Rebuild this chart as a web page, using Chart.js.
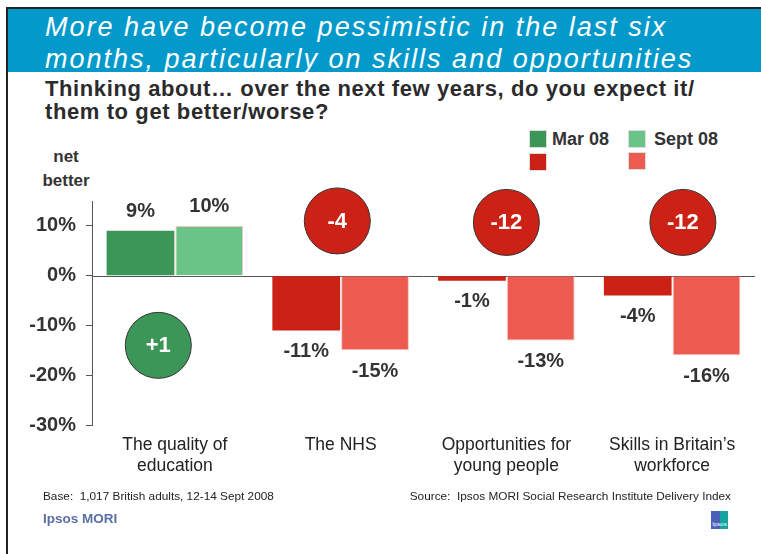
<!DOCTYPE html>
<html>
<head>
<meta charset="utf-8">
<script src="https://cdn.jsdelivr.net/npm/chart.js@4.4.0/dist/chart.umd.min.js"></script>
<style>
  html, body { margin: 0; padding: 0; background: #fff; }
  body { width: 761px; height: 554px; position: relative; overflow: hidden; font-family: "Liberation Sans", Arial, sans-serif; }
  #frame { position: absolute; left: 6px; top: 7px; width: 760px; height: 560px; border-left: 2px solid #222; border-top: 2px solid #222; }
  #header { position: absolute; left: 8px; top: 9px; width: 753px; height: 63px; background: #0399cb; }
  #header div { position: absolute; left: 37px; color: #fff; font-style: italic; font-size: 27px; letter-spacing: 2px; white-space: nowrap; }
  .title { position: absolute; left: 45px; font-weight: bold; font-size: 22px; letter-spacing: 0.6px; color: #2b2b2b; white-space: nowrap; }
  .leg { position: absolute; width: 16px; height: 16px; border: 1px solid #ddd; }
  .legtxt { position: absolute; font-weight: bold; font-size: 18px; color: #333; white-space: nowrap; }
  .net { position: absolute; left: 34px; width: 64px; text-align: center; font-weight: bold; font-size: 17px; color: #333; }
  .foot { position: absolute; top: 489px; font-size: 11.8px; color: #222; white-space: nowrap; }
  #chart { position: absolute; left: 0; top: 0; }
</style>
</head>
<body>
<div id="frame"></div>
<div id="header">
  <div style="top:3px">More have become pessimistic in the last six</div>
  <div style="top:35px">months, particularly on skills and opportunities</div>
</div>
<div class="title" style="top:76px">Thinking about… over the next few years, do you expect it/</div>
<div class="title" style="top:99px">them to get better/worse?</div>

<div class="leg" style="left:529px;top:130px;background:#3c9657"></div>
<div class="legtxt" style="left:552px;top:129px">Mar 08</div>
<div class="leg" style="left:628px;top:130px;background:#6bc487"></div>
<div class="legtxt" style="left:654px;top:129px">Sept 08</div>
<div class="leg" style="left:529px;top:153px;background:#cc2216"></div>
<div class="leg" style="left:628px;top:152px;background:#ec5a50"></div>

<div class="net" style="top:147px">net</div>
<div class="net" style="top:171px">better</div>

<canvas id="chart" width="761" height="554"></canvas>

<div class="foot" style="left:43px">Base:&nbsp; 1,017 British adults, 12-14 Sept 2008</div>
<div class="foot" style="right:30px">Source:&nbsp; Ipsos MORI Social Research Institute Delivery Index</div>
<div style="position:absolute;left:43px;top:511px;font-weight:bold;font-size:13.5px;color:#5a6ea8">Ipsos MORI</div>
<div style="position:absolute;left:711px;top:511px;width:17px;height:18px;background:linear-gradient(90deg,#4a5fb8 55%,#14a3a0 55%);color:#fff;font-size:6px;line-height:26px;text-align:center">Ipsos</div>

<script>
const categories = [["The quality of", "education"], "The NHS", ["Opportunities for", "young people"], ["Skills in Britain’s", "workforce"]];
const mar08 = [9, -11, -1, -4];
const sept08 = [10, -15, -13, -16];
const netChange = [1, -4, -12, -12];
const yTicks = [-30, -20, -10, 0, 10];

const green = ["#3c9657", "#6bc487"];
const red = ["#cc2216", "#ec5a50"];

// where the net change badges sit: category offset, y value
const badgeAt = [[-0.1, -14], [-0.02, 11], [0, 10.7], [0.065, 10.7]];

const labelPlugin = {
  id: "labels",
  beforeDatasetsDraw(chart) {
    const { ctx, chartArea, scales } = chart;
    const y0 = Math.round(scales.y.getPixelForValue(0)) + 0.5;
    ctx.save();
    ctx.strokeStyle = "#555";
    ctx.lineWidth = 1;
    ctx.beginPath();
    ctx.moveTo(chartArea.left, y0);
    ctx.lineTo(chartArea.right, y0);
    ctx.stroke();
    ctx.restore();
  },
  afterDatasetsDraw(chart) {
    const { ctx, scales } = chart;
    ctx.save();
    ctx.font = "bold 20px 'Liberation Sans', Arial";
    ctx.fillStyle = "#333";
    ctx.textAlign = "center";
    ctx.textBaseline = "middle";
    chart.data.datasets.forEach((ds, di) => {
      chart.getDatasetMeta(di).data.forEach((bar, i) => {
        const v = ds.data[i];
        const y = v >= 0 ? bar.y - 19 : bar.y + 21;
        ctx.fillText(v + "%", bar.x, y);
      });
    });
    netChange.forEach((n, i) => {
      const x = scales.x.getPixelForValue(i + badgeAt[i][0]);
      const y = scales.y.getPixelForValue(badgeAt[i][1]);
      ctx.beginPath();
      ctx.arc(x, y, 33, 0, Math.PI * 2);
      ctx.fillStyle = n > 0 ? "#3c9657" : "#cc2216";
      ctx.fill();
      ctx.strokeStyle = "#333";
      ctx.lineWidth = 1;
      ctx.stroke();
      ctx.fillStyle = "#fff";
      ctx.font = "bold 22px 'Liberation Sans', Arial";
      ctx.fillText((n > 0 ? "+" : "") + n, x, y + 1);
    });
    ctx.restore();
  }
};

new Chart(document.getElementById("chart"), {
  type: "bar",
  data: {
    labels: categories,
    datasets: [
      { label: "Mar 08", data: mar08, backgroundColor: mar08.map((v, i) => i === 0 ? green[0] : red[0]), borderWidth: 0 },
      { label: "Sept 08", data: sept08, backgroundColor: sept08.map((v, i) => i === 0 ? green[1] : red[1]), borderColor: "#f3c6c3", borderWidth: 1 }
    ]
  },
  options: {
    responsive: false,
    animation: false,
    layout: { padding: { left: 0, top: 201, right: 6, bottom: 69 } },
    categoryPercentage: 0.83,
    barPercentage: 0.985,
    plugins: { legend: { display: false }, tooltip: { enabled: false } },
    scales: {
      x: {
        grid: { display: false },
        border: { display: false },
        ticks: { color: "#222", font: { size: 17.5, family: "'Liberation Sans', Arial" }, padding: 2, maxRotation: 0, autoSkip: false },
        afterFit: s => { s.height = 60; }
      },
      y: {
        min: -30,
        max: 15,
        afterBuildTicks: s => { s.ticks = yTicks.map(v => ({ value: v })); },
        afterFit: s => { s.width = 92; },
        grid: { drawOnChartArea: false, tickLength: 6, color: "#555" },
        border: { color: "#555", width: 1 },
        ticks: { color: "#333", font: { size: 20, weight: "bold", family: "'Liberation Sans', Arial" }, padding: 10, callback: v => v + "%" }
      }
    }
  },
  plugins: [labelPlugin]
});
</script>
</body>
</html>
